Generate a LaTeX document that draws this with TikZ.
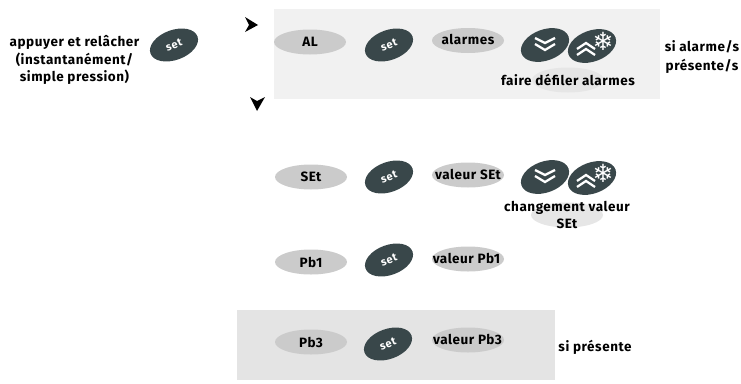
\documentclass[tikz,border=0pt]{standalone}
\usepackage{fontspec}
\setmainfont[LetterSpace=4]{Fira Sans}
\newfontfamily\symfont{DejaVu Sans}
\usetikzlibrary{shapes.geometric}
\definecolor{btn}{HTML}{39474A}
\definecolor{oval}{HTML}{CBCBCB}
\definecolor{panelA}{HTML}{F1F1F1}
\definecolor{panelB}{HTML}{E4E4E4}
\definecolor{ghost}{HTML}{E6E6E6}
\newcommand{\nowide}[1]{\makebox[0pt][c]{#1}}
\tikzset{
  disp/.style={ellipse,fill=oval,minimum width=72pt,minimum height=25pt,inner sep=0pt,font=\fontsize{13.5}{15}\bfseries},
  ghostoval/.style={ellipse,fill=ghost,minimum width=72pt,minimum height=25pt,inner sep=0pt},
  btnset/.style={ellipse,fill=btn,minimum width=50pt,minimum height=30pt,inner sep=0pt,rotate=20,text=white,font=\fontsize{11}{13}\bfseries},
  lbl/.style={font=\fontsize{13.5}{17.5}\bfseries,align=center,text=black,inner sep=0pt},
  chev/.style={draw=white,line width=2.3pt},
  tipmark/.style={fill=black,draw=none}
}
\newcommand{\downbtn}[2]{%
  \node[btnset,minimum width=50pt,minimum height=31pt] (#1) at (#2) {};
  \draw[chev] ([shift={(-10,-7)}]#2) -- ([shift={(0,-2)}]#2) -- ([shift={(10,-7)}]#2);
  \draw[chev] ([shift={(-10,-1)}]#2) -- ([shift={(0,5)}]#2) -- ([shift={(10,-1)}]#2);
}
\newcommand{\upbtn}[2]{%
  \node[btnset,minimum width=50pt,minimum height=31pt] (#1) at (#2) {};
  \draw[chev] ([shift={(-15,3)}]#2) -- ([shift={(-6,-3)}]#2) -- ([shift={(3,3)}]#2);
  \draw[chev] ([shift={(-15,9)}]#2) -- ([shift={(-6,3)}]#2) -- ([shift={(3,9)}]#2);
  \node[text=white,inner sep=0pt,font=\symfont\fontsize{25}{25}\selectfont] at ([shift={(11,-5)}]#2) {❄};
}
\begin{document}
\begin{tikzpicture}[x=1pt,y=-1pt]
\useasboundingbox (0,0) rectangle (741,383);
\fill[panelA] (274,9) rectangle (660,99);
\fill[panelB] (237,310) rectangle (555,380);

% first column legend
\node[lbl] (legend) at (74.5,60) {appuyer et relâcher\\(instantanément/\\simple pression)};
\node[btnset] (s0) at (174,45) {set};

% arrows
\fill[tipmark] (245,17) -- (258,25) -- (245,32) -- (249,25) -- cycle;
\fill[tipmark] (250,97) -- (257,101) -- (265,97) -- (257,111) -- cycle;

% AL row
\node[disp] (al) at (310,42) {AL};
\node[btnset] (s1) at (389,45) {set};
\node[disp] (alv) at (468,40.5) {\raisebox{1.5pt}{\nowide{alarmes}}};
\downbtn{d1}{545,45}
\upbtn{u1}{592,46}
\node[ghostoval] (g1) at (568,80) {};
\node[lbl] (t1) at (568,80) {faire défiler alarmes};
\node[lbl] (n1) at (702,56.5) {si alarme/s\\[1.5pt]présente/s};

% SEt row
\node[disp] (se) at (311,177) {SEt};
\node[btnset] (s2) at (389,177) {set};
\node[disp] (sev) at (468,175) {\raisebox{1pt}{\nowide{valeur SEt}}};
\downbtn{d2}{545,177}
\upbtn{u2}{592,178}
\node[ghostoval] (g2) at (567,215) {};
\node[lbl] (t2) at (567,215) {changement valeur\\SEt};

% Pb1 row
\node[disp] (p1) at (311,262) {Pb1};
\node[btnset] (s3) at (389,260) {set};
\node[disp] (p1v) at (468,259) {\raisebox{1pt}{\hspace{-3pt}\nowide{valeur Pb1}}};

% Pb3 row
\node[disp] (p3) at (311,342) {Pb3};
\node[btnset] (s4) at (388,344) {set};
\node[disp] (p3v) at (468,340) {\raisebox{1pt}{\hspace{-1pt}\nowide{valeur Pb3}}};
\node[lbl] (n3) at (595,347) {si présente};
\end{tikzpicture}
\end{document}
